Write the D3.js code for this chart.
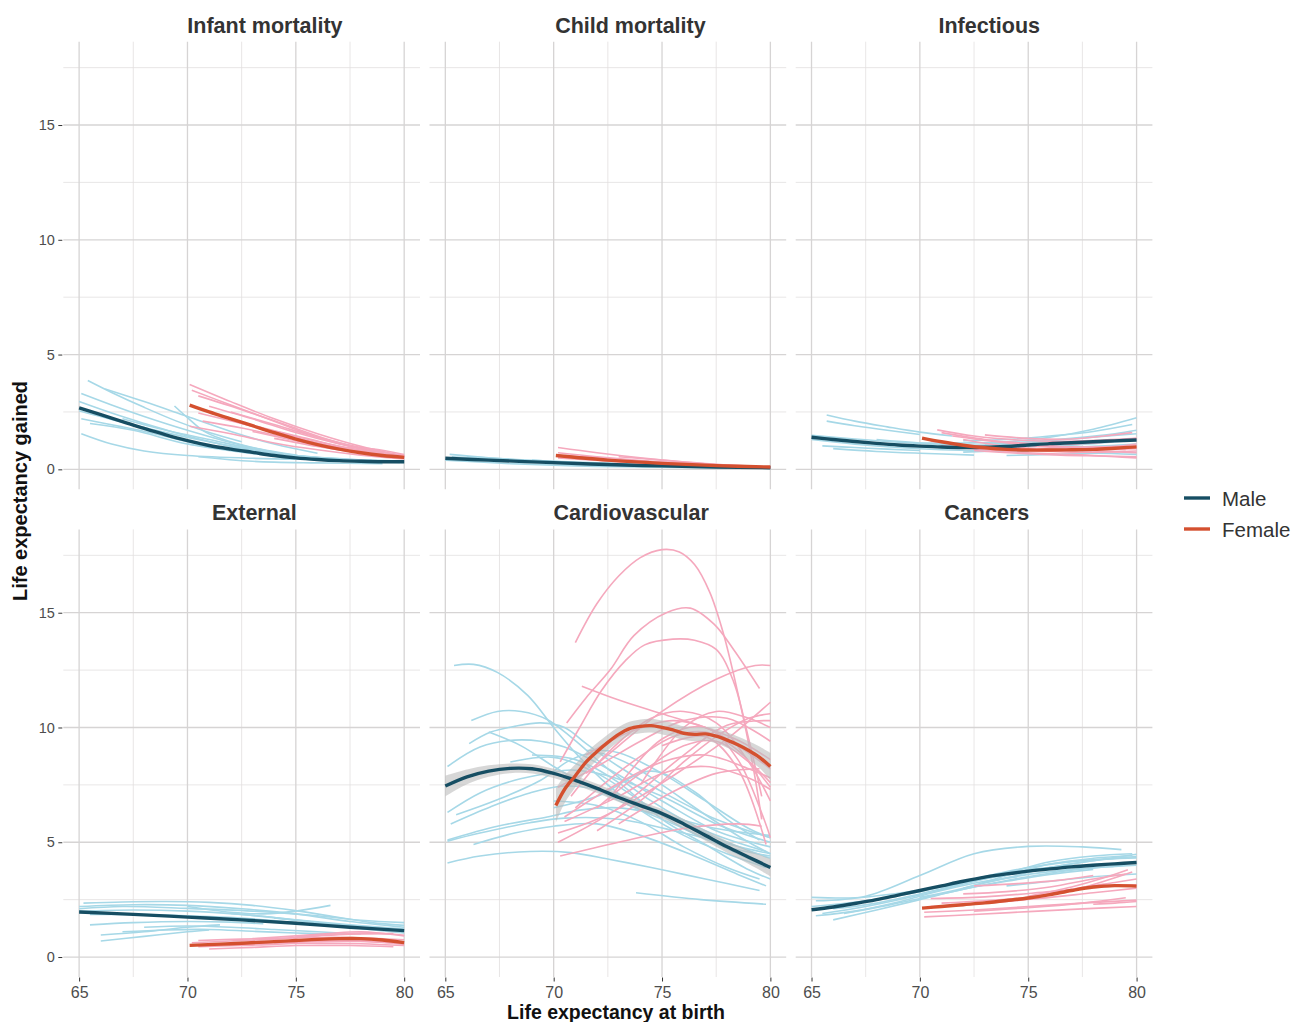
<!DOCTYPE html>
<html>
<head>
<meta charset="utf-8">
<script src="https://cdn.jsdelivr.net/npm/d3@7"></script>
<style>
  html, body { margin: 0; padding: 0; background: #fff; }
  svg { display: block; font-family: "Liberation Sans", Arial, Helvetica, sans-serif; }
</style>
</head>
<body>
<svg id="chart" width="1294" height="1022"></svg>
<script>
// ---------------- DATA ----------------
const panelTitles = ["Infant mortality", "Child mortality", "Infectious", "External", "Cardiovascular", "Cancers"];
const sexes = ["Male", "Female"];
const xTicks = [65, 70, 75, 80];
const xMinor = [67.5, 72.5, 77.5];
const yTicks = [0, 5, 10, 15];
const yMinor = [2.5, 7.5, 12.5, 17.5];

// Infant mortality
const infantMaleLines = [
  [[65.4,3.87],[66.5,3.35],[68,2.7],[69.5,2.1],[71,1.6],[72.5,1.2]],
  [[66.2,3.5],[68,2.95],[70,2.3],[72,1.65],[74,1.1],[76,0.7]],
  [[65.1,3.3],[66.5,2.8],[68,2.3],[70,1.7],[72.5,1.05],[75,0.6],[77,0.45]],
  [[65,2.95],[66.5,2.45],[68,2.0],[70,1.45],[72,1.0],[74,0.7]],
  [[65,2.55],[67,2.05],[69,1.6],[71,1.2],[73,0.85],[75,0.6],[78,0.4]],
  [[65.1,2.2],[67,1.85],[68.5,1.55],[70,1.2],[72,0.85],[74.5,0.55],[77,0.4]],
  [[65.1,1.55],[66.5,1.1],[68,0.8],[70,0.6],[73,0.48],[76,0.43],[78.5,0.4]],
  [[69.4,2.76],[70,2.25],[70.7,1.7],[71.5,1.35],[73,0.95],[75,0.62]],
  [[65.5,2.0],[67.5,1.7],[70,1.1],[72.5,0.75],[75,0.48],[77.5,0.35],[79.8,0.3]],
  [[70,1.1],[72,0.85],[74,0.62],[76,0.45],[78,0.36],[80,0.3]],
  [[72,0.95],[74,0.7],[76,0.52],[78,0.42],[80,0.35]],
  [[67,2.2],[69,1.7],[71,1.3],[73,0.9],[75.5,0.55],[78,0.38]],
  [[70.5,0.55],[73,0.35],[76,0.28],[79,0.25]]
];
const infantFemaleLines = [
  [[70.1,3.7],[72,2.95],[74,2.2],[76,1.55],[78,1.0],[79.6,0.65]],
  [[70.2,3.45],[72,2.8],[74,2.1],[76,1.4],[78,0.9],[80,0.6]],
  [[70.5,3.2],[72.5,2.6],[74.5,1.95],[76.5,1.3],[78.5,0.8],[80,0.6]],
  [[70.7,2.1],[72.5,1.8],[74,1.5],[76,1.1],[78,0.75],[79.5,0.6]],
  [[70.1,1.88],[72,1.55],[74,1.15],[76,0.85],[78,0.62],[80,0.45]],
  [[71,2.75],[73,2.2],[75,1.6],[77,1.1],[79,0.7],[80,0.58]],
  [[71.5,2.3],[73.5,1.8],[75.5,1.35],[77.5,0.9],[79.5,0.62]],
  [[72,2.5],[74,1.95],[76,1.4],[78,0.95],[80,0.58]],
  [[72.5,2.0],[74.5,1.5],[76.5,1.05],[78.5,0.72],[80,0.52]],
  [[73,1.65],[75,1.25],[77,0.88],[79,0.6],[80,0.5]],
  [[74,1.35],[76,1.0],[78,0.72],[80,0.52]],
  [[76,1.05],[77.5,0.85],[79,0.68],[80,0.55]],
  [[70.5,2.45],[72.5,2.0],[74.5,1.55],[76.5,1.1],[78.5,0.75],[80,0.55]],
  [[77,0.95],[78.5,0.9],[80,0.65]]
];
const infantMaleTrend = [[65,2.68],[66,2.38],[67,2.08],[68,1.78],[69,1.5],[70,1.25],[71,1.04],[72,0.88],[73,0.74],[74,0.6],[75,0.5],[76,0.43],[77,0.38],[78,0.35],[79,0.33],[80,0.33]];
const infantFemaleTrend = [[70.1,2.8],[71,2.5],[72,2.2],[73,1.9],[74,1.6],[75,1.32],[76,1.08],[77,0.88],[78,0.72],[79,0.6],[80,0.52]];

// Child mortality
const childMaleLines = [
  [[65.2,0.65],[67,0.5],[70,0.32],[73,0.2],[76,0.12]],
  [[65,0.4],[68,0.25],[71,0.15],[74,0.1],[78,0.06]],
  [[66,0.55],[68.5,0.42],[71,0.3]],
  [[69,0.4],[70,0.35],[72,0.28],[75,0.17],[79,0.08]],
  [[65.3,0.55],[67,0.45],[69,0.35],[71,0.28]],
  [[70,0.25],[74,0.15],[78,0.08],[80,0.06]]
];
const childFemaleLines = [
  [[70.2,0.95],[72,0.72],[74,0.5],[76,0.32],[78,0.18],[80,0.1]],
  [[70.2,0.72],[72,0.55],[75,0.32],[78,0.16],[80,0.1]],
  [[70.5,0.6],[73,0.42],[76,0.25],[79,0.12]],
  [[71,0.5],[74,0.35],[77,0.2],[80,0.08]],
  [[73,0.55],[75,0.4],[77,0.25],[79,0.14]],
  [[70.2,0.5],[73,0.33],[76,0.18],[80,0.07]]
];
const childMaleTrend = [[65,0.48],[67,0.4],[70,0.29],[72.5,0.21],[75,0.15],[77.5,0.1],[80,0.07]];
const childFemaleTrend = [[70.1,0.6],[72.5,0.4],[75,0.26],[77.5,0.16],[80,0.1]];

// Infectious
const infectMaleLines = [
  [[65.7,2.37],[67,2.1],[68.5,1.85],[70,1.62],[71.5,1.45]],
  [[65.7,2.1],[67,1.9],[68.5,1.7],[70,1.52]],
  [[65,1.48],[67,1.32],[69,1.18],[71,1.08],[73,1.02]],
  [[65,1.3],[67,1.1],[69,0.95],[71,0.85],[73,0.8],[75,0.78]],
  [[65.5,1.02],[67,0.95],[68.5,0.88],[70,0.82]],
  [[66,0.9],[68,0.78],[70,0.7],[72.5,0.62]],
  [[70,1.15],[72,1.15],[74,1.2],[76,1.4],[78,1.75],[80,2.25]],
  [[72,1.25],[74,1.3],[76,1.45],[78,1.65],[79.8,1.95]],
  [[73,1.1],[75,1.2],[77,1.35],[79,1.55],[80,1.7]],
  [[72,0.75],[74,0.82],[76,0.9],[78,1.0],[80,1.1]],
  [[75,1.0],[77,1.05],[79,1.2],[80,1.28]],
  [[74,0.6],[76,0.65],[78,0.7],[80,0.65]],
  [[68,1.3],[70,1.15],[72,1.05],[74,1.1],[76,1.25],[78,1.4],[80,1.55]],
  [[65.2,1.42],[67,1.2],[69,1.05],[71,0.95],[73,0.95]]
];
const infectFemaleLines = [
  [[70.8,1.72],[72.5,1.45],[74.5,1.28],[76.5,1.22],[78.5,1.28],[80,1.35]],
  [[71,1.6],[73,1.3],[75,1.1],[77,0.98],[79,0.98],[80,1.0]],
  [[72,1.3],[74,1.0],[76,0.88],[78,0.8],[80,0.72]],
  [[71,1.02],[73,0.85],[75,0.72],[77,0.65],[79,0.55],[80,0.5]],
  [[72.5,0.82],[74.5,0.7],[76.5,0.62],[78.5,0.58],[80,0.55]],
  [[73,1.5],[75,1.35],[77,1.32],[78.5,1.45],[79.8,1.6]],
  [[74,1.2],[76,1.1],[78,1.15],[80,1.35]],
  [[75,0.82],[77,0.75],[79,0.76],[80,0.8]],
  [[70.5,1.22],[72.5,1.02],[74.5,0.9],[76.5,0.85],[78.5,0.86],[80,0.9]],
  [[76,1.0],[77.5,0.95],[79,1.0],[80,1.1]],
  [[71.5,1.45],[73.5,1.2],[75.5,1.0],[77.5,0.9],[79.5,0.85]]
];
const infectMaleTrend = [[65,1.4],[66,1.3],[67,1.21],[68,1.13],[69,1.06],[70,1.01],[71,0.97],[72,0.95],[73,0.96],[74,1.0],[75,1.06],[76,1.12],[77,1.16],[78,1.2],[79,1.24],[80,1.28]];
const infectFemaleTrend = [[70.1,1.36],[71,1.2],[72,1.05],[73,0.94],[74,0.87],[75,0.84],[76,0.84],[77,0.85],[78,0.87],[79,0.92],[80,0.98]];

// External
const extMaleLines = [
  [[65.2,2.35],[67,2.4],[69,2.42],[71,2.38],[73,2.25],[75,2.02],[77,1.72],[78.5,1.5],[80,1.38]],
  [[65,2.2],[67.5,2.28],[70,2.25],[72.5,2.1],[75,1.88],[77.5,1.55],[80,1.3]],
  [[65,2.0],[67.5,2.05],[70,2.0],[72.5,1.85],[75,1.62],[77.5,1.4],[80,1.22]],
  [[65.5,1.85],[68,1.85],[70,1.8],[72.5,1.7],[75,1.5],[77.5,1.33],[79.5,1.2]],
  [[65.5,1.4],[67.5,1.5],[70,1.55],[72,1.52],[73.5,1.45]],
  [[66,0.96],[68,1.1],[70,1.3],[71.5,1.4]],
  [[66,0.7],[68,0.9],[70,1.1],[71,1.18]],
  [[67,1.1],[69,1.18],[71,1.2],[73,1.12],[75,1.05],[76.5,1.0]],
  [[70,2.2],[72,1.95],[73.5,1.88],[75,2.0],[76.6,2.25]],
  [[72,1.9],[74,1.72],[76,1.5],[78,1.25],[80,1.05]],
  [[74,1.7],[76,1.5],[78,1.3],[80,1.12]],
  [[65,2.1],[67,2.2],[70,2.12],[73,2.0],[76,1.8],[78,1.6],[80,1.5]],
  [[68,1.3],[70,1.35],[72,1.3],[74,1.2],[76,1.1],[78,1.0]]
];
const extFemaleLines = [
  [[70.2,0.62],[72,0.7],[74,0.78],[76,0.92],[77.5,1.0],[79.5,1.02]],
  [[70.5,0.45],[73,0.52],[75.5,0.6],[78,0.58],[80,0.5]],
  [[71,0.35],[73,0.42],[75,0.5],[77.5,0.5],[79.5,0.45]],
  [[70.5,0.72],[72.5,0.78],[74.5,0.82],[77,0.86],[80,0.75]],
  [[72,0.55],[74,0.62],[76,0.7],[78,0.68],[80,0.6]],
  [[73,0.8],[75,0.92],[76.5,1.02],[78,1.1],[80,0.92]],
  [[74,0.6],[76,0.68],[78,0.7],[80,0.55]],
  [[75,0.88],[77,1.0],[78.5,1.05],[80,0.95]],
  [[71.5,0.55],[74,0.65],[77,0.75],[79.5,0.7]]
];
const extMaleTrend = [[65,1.96],[67.5,1.86],[70,1.74],[72.5,1.62],[75,1.47],[77.5,1.3],[80,1.15]];
const extFemaleTrend = [[70.1,0.51],[72,0.58],[74,0.67],[75,0.72],[76,0.77],[77,0.8],[78,0.8],[79,0.74],[80,0.63]];

// Cardiovascular
const cardioMaleLines = [
  [[65.4,12.7],[66.3,12.75],[67.4,12.4],[68.8,11.4],[70,10.0],[71,8.9],[72.5,7.5],[74,6.4],[76,5.3],[78,4.5],[79.8,3.9]],
  [[66.2,10.3],[67.4,10.7],[68.5,10.7],[69.7,10.35],[70.9,9.5],[72.5,8.2],[74.5,6.8],[77,5.5],[79.8,4.6]],
  [[66.1,9.3],[67.1,9.8],[68.2,10.05],[69.4,10.2],[70.5,10.0],[71.5,9.3],[73,8.3],[75,7.2],[77.5,6.0],[80,5.2]],
  [[65.1,8.3],[66.6,9.15],[68.2,9.45],[69.4,9.4],[70.5,9.15],[72.5,8.2],[75,6.8],[77.5,5.5],[80,4.8]],
  [[67,9.8],[68.5,9.2],[70,8.3],[71.5,7.5],[73.5,6.6],[76,5.6],[78.5,4.5],[79.8,3.9]],
  [[65.1,6.3],[66.6,7.15],[68.2,7.7],[69.7,8.0],[70.8,8.15],[72.5,7.9],[75,7.0],[77.5,5.8],[80,5.0]],
  [[65.25,5.8],[67.1,6.55],[68.9,7.15],[70.5,7.45],[72.5,7.2],[75,6.3],[77.5,5.2],[80,4.3]],
  [[65.5,6.2],[67.4,6.85],[69.4,7.7],[70.8,8.6],[72,8.9],[73.5,8.4],[75,7.5],[77,6.2],[79,5.0],[80,4.5]],
  [[65.1,5.1],[67.4,5.7],[69.7,6.1],[71.2,6.4],[73,6.5],[75,6.2],[77.5,5.6],[80,5.3]],
  [[65.1,5.05],[66.6,5.4],[68.9,5.85],[70.5,6.05],[73,6.0],[76,5.4],[79,4.7],[80,4.5]],
  [[66.3,4.9],[68.2,5.4],[70,5.7],[72,5.8],[74,5.3],[76.5,4.4],[78.5,3.6],[79.8,3.1]],
  [[65.1,4.1],[66.6,4.4],[68.9,4.6],[70.8,4.55],[72.6,4.25],[74.5,3.9],[76,3.6],[78,3.2],[79.5,2.9]],
  [[73.8,2.8],[76.8,2.5],[79.8,2.3]],
  [[70,6.5],[72,7.0],[74.5,8.1],[76.5,7.2],[78,6.0],[79.5,5.1]],
  [[69,8.8],[71,8.6],[73,7.6],[75,6.0],[77,4.9],[79,3.8],[80,3.4]],
  [[70,6.8],[72,6.6],[74,5.9],[76,4.8],[78,3.9],[79.5,3.4]],
  [[71.5,9.0],[73,8.9],[75,8.0],[77,6.8],[79,5.6],[80,5.2]],
  [[68,8.5],[70,8.7],[72,8.0],[74,6.8],[76,5.6],[78,4.8],[80,4.4]]
];
const cardioFemaleLines = [
  [[71.0,13.7],[72,15.4],[73,16.6],[74,17.4],[75,17.75],[75.8,17.65],[76.5,17.1],[77.2,15.9],[77.8,14.2],[78.5,11.5],[79.2,8.3],[79.6,6.0]],
  [[70.6,10.2],[71.5,11.3],[72.6,12.5],[73.7,14.0],[75.2,15.0],[76.3,15.2],[77.4,14.5],[78.3,13.4],[79.5,11.7]],
  [[70.3,8.5],[71.2,10.0],[72.2,11.6],[73.3,12.9],[74.2,13.6],[75.5,13.85],[76.5,13.8],[77.5,13.4],[78.3,12.0],[79.0,9.5],[79.6,7.0]],
  [[71.5,8.0],[73,9.2],[75,10.7],[77.5,12.1],[79.3,12.7],[80,12.7]],
  [[71.3,11.8],[73,11.2],[75,10.6],[77,10.0],[78.6,9.4],[80,8.6]],
  [[70.2,5.4],[72,6.0],[74,7.0],[76,8.2],[78,9.5],[80,11.1]],
  [[70.2,5.0],[73,6.5],[76,8.8],[78,10.1],[80,10.3]],
  [[70.3,4.4],[73,5.0],[76,5.6],[78.5,5.8],[79.6,5.7]],
  [[70.5,5.9],[73,7.0],[75,8.0],[77,8.3],[79,7.8],[80,7.3]],
  [[71,6.5],[73.5,8.4],[75.5,9.6],[77,9.8],[78.5,9.0],[80,7.4]],
  [[72,6.5],[74,8.0],[76,9.2],[77.5,9.4],[79,8.5],[80,7.6]],
  [[71.5,8.8],[73.5,9.8],[75.5,10.3],[77,10.0],[78.5,9.2],[80,8.2]],
  [[70.8,7.0],[72.5,8.9],[74.5,10.4],[76,10.7],[77.5,10.2],[79,8.5],[80,6.8]],
  [[72,5.5],[74,6.8],[76,8.5],[77.5,9.6],[79,10.4],[80,10.6]],
  [[73,5.8],[75.5,7.2],[77.5,8.0],[79.5,8.2]],
  [[70.5,6.1],[72.5,7.3],[75,8.5],[77,8.8],[79,8.2],[80,7.8]],
  [[74,7.5],[76,10.0],[77.5,10.7],[79,10.4],[80,10.0]],
  [[72.5,6.8],[75,9.5],[77,10.0],[78.5,8.6],[80,5.2]],
  [[75,9.2],[77,9.6],[78.5,8.2],[79.8,4.9]],
  [[70.2,7.4],[72,8.3],[74,9.4],[76,10.3],[78,10.4],[80,9.4]]
];
const cardioMaleTrend = [[65,7.45],[66,7.85],[67,8.1],[68,8.22],[69,8.2],[70,8.0],[71,7.7],[72,7.35],[73,6.95],[74,6.6],[75,6.25],[76,5.8],[77,5.3],[78,4.8],[79,4.35],[80,3.9]];
const cardioMaleBand = [0.45,0.32,0.25,0.21,0.2,0.2,0.2,0.2,0.2,0.2,0.2,0.21,0.23,0.26,0.3,0.38];
const cardioFemaleTrend = [[70.1,6.6],[70.5,7.3],[71,7.9],[71.5,8.5],[72,8.95],[72.5,9.35],[73,9.7],[73.5,9.95],[74,10.05],[74.5,10.08],[75,10.0],[75.5,9.9],[76,9.75],[76.5,9.7],[77,9.72],[77.5,9.62],[78,9.45],[78.5,9.25],[79,9.0],[79.5,8.7],[80,8.3]];
const cardioFemaleBand = [0.75,0.6,0.5,0.42,0.37,0.34,0.32,0.3,0.3,0.3,0.3,0.3,0.3,0.3,0.3,0.31,0.33,0.36,0.4,0.47,0.6];

// Cancers
const cancerMaleLines = [
  [[65.2,2.45],[67.5,2.65],[70,3.55],[72.5,4.5],[75,4.82],[77.5,4.8],[79.3,4.68]],
  [[65,2.2],[67.5,2.45],[70,2.85],[72.5,3.4],[75,3.9],[77.5,4.2],[80,4.32]],
  [[65.5,1.9],[67.5,2.2],[70,2.7],[73,3.4],[76,3.9],[78,4.2],[80,4.38]],
  [[66,1.62],[68,2.05],[70,2.5],[72,2.95],[74,3.3],[76,3.6],[78,3.82]],
  [[65,2.6],[67,2.58],[69,2.78],[71,3.05],[73,3.42],[75,3.8],[77.5,4.0],[80,4.12]],
  [[66.5,1.9],[68.5,2.25],[70.5,2.65],[72.5,3.05],[74.5,3.42],[77,3.78],[79.5,4.0]],
  [[70,2.6],[72,3.0],[74,3.55],[76,4.05],[78,4.3],[79.8,4.42]],
  [[72,3.0],[74,3.45],[76,3.9],[78,4.2],[80,4.48]],
  [[74,3.1],[76,3.3],[78,3.5],[80,3.62]],
  [[65.2,1.8],[67,2.0],[69,2.4],[71,2.9],[73,3.3],[74.5,3.5]],
  [[73,3.25],[75,3.6],[77,3.82],[79,3.95],[80,4.0]],
  [[66,2.1],[68,2.35],[70,2.75],[72,3.2],[74,3.65],[76,4.15],[78,4.4],[79.8,4.5]]
];
const cancerFemaleLines = [
  [[70.2,1.75],[72.5,1.85],[75,1.98],[77.5,2.1],[80,2.2]],
  [[70.2,1.95],[72.5,2.05],[75,2.2],[77.5,2.35],[80,2.48]],
  [[71,2.35],[73,2.45],[75,2.6],[77,2.9],[78.5,3.3],[79.8,3.7]],
  [[72,2.75],[74,2.85],[76,3.05],[78,3.4],[79.5,3.62]],
  [[73,2.4],[75,2.6],[77,2.95],[79,3.25],[80,3.4]],
  [[70.5,2.2],[73,2.35],[75.5,2.55],[78,2.8],[80,3.0]],
  [[78,2.3],[79,2.35],[80,2.42]],
  [[72.5,2.0],[75,2.15],[77.5,2.35],[79.5,2.58]],
  [[75,2.65],[77,3.05],[78.5,3.45],[79.6,3.8]],
  [[72.5,3.1],[74.5,3.2],[76.5,3.35],[78,3.55]],
  [[70.5,2.55],[73,2.62],[76,2.85],[79,3.1],[80,3.15]]
];
const cancerMaleTrend = [[65,2.06],[66,2.18],[67,2.33],[68,2.5],[69,2.7],[70,2.9],[71,3.1],[72,3.3],[73,3.48],[74,3.62],[75,3.74],[76,3.84],[77,3.93],[78,4.0],[79,4.06],[80,4.12]];
const cancerFemaleTrend = [[70.1,2.13],[71,2.2],[72,2.28],[73,2.36],[74,2.46],[75,2.57],[76,2.72],[77,2.9],[78,3.05],[79,3.11],[80,3.09]];

// ---------------- ASSEMBLY ----------------
const panelsData = [
  { title: panelTitles[0], male: infantMaleLines, female: infantFemaleLines, maleTrend: infantMaleTrend, femaleTrend: infantFemaleTrend },
  { title: panelTitles[1], male: childMaleLines, female: childFemaleLines, maleTrend: childMaleTrend, femaleTrend: childFemaleTrend },
  { title: panelTitles[2], male: infectMaleLines, female: infectFemaleLines, maleTrend: infectMaleTrend, femaleTrend: infectFemaleTrend },
  { title: panelTitles[3], male: extMaleLines, female: extFemaleLines, maleTrend: extMaleTrend, femaleTrend: extFemaleTrend },
  { title: panelTitles[4], male: cardioMaleLines, female: cardioFemaleLines, maleTrend: cardioMaleTrend, femaleTrend: cardioFemaleTrend, maleBand: cardioMaleBand, femaleBand: cardioFemaleBand },
  { title: panelTitles[5], male: cancerMaleLines, female: cancerFemaleLines, maleTrend: cancerMaleTrend, femaleTrend: cancerFemaleTrend }
];

const colors = {
  maleThin: "#a6d8e7", femaleThin: "#f5a8bd",
  maleThick: "#164e63", femaleThick: "#d4502f",
  band: "#bdbdbd"
};

const svg = d3.select("#chart");
const colLeft = [63.3, 429.5, 795.7];
const rowTop = [41.7, 529.4];
const pw = 356.7, ph = 447.6;
const xDomain = [64.27, 80.73];
const yDomain = [-0.87, 18.63];

panelsData.forEach((p, i) => {
  const col = i % 3, row = Math.floor(i / 3);
  const left = colLeft[col], top = rowTop[row];
  const x = d3.scaleLinear().domain(xDomain).range([left, left + pw]);
  const y = d3.scaleLinear().domain(yDomain).range([top + ph, top]);
  const g = svg.append("g");

  // grid
  g.selectAll(".hminor").data(yMinor).join("line")
    .attr("x1", left).attr("x2", left + pw).attr("y1", d => y(d)).attr("y2", d => y(d))
    .attr("stroke", "#e2e0e0").attr("stroke-width", 0.8);
  g.selectAll(".vminor").data(xMinor).join("line")
    .attr("y1", top).attr("y2", top + ph).attr("x1", d => x(d)).attr("x2", d => x(d))
    .attr("stroke", "#e2e0e0").attr("stroke-width", 0.8);
  g.selectAll(".hmajor").data(yTicks).join("line")
    .attr("x1", left).attr("x2", left + pw).attr("y1", d => y(d)).attr("y2", d => y(d))
    .attr("stroke", "#d6d4d4").attr("stroke-width", 1.3);
  g.selectAll(".vmajor").data(xTicks).join("line")
    .attr("y1", top).attr("y2", top + ph).attr("x1", d => x(d)).attr("x2", d => x(d))
    .attr("stroke", "#d6d4d4").attr("stroke-width", 1.3);

  const line = d3.line().x(d => x(d[0])).y(d => y(d[1])).curve(d3.curveCatmullRom.alpha(0.5));

  g.selectAll(".mthin").data(p.male).join("path")
    .attr("d", line).attr("fill", "none").attr("stroke", colors.maleThin).attr("stroke-width", 1.6);
  g.selectAll(".fthin").data(p.female).join("path")
    .attr("d", line).attr("fill", "none").attr("stroke", colors.femaleThin).attr("stroke-width", 1.6);

  const area = d3.area().x(d => x(d[0])).y0(d => y(d[1] - d[2])).y1(d => y(d[1] + d[2]))
    .curve(d3.curveCatmullRom.alpha(0.5));
  if (p.maleBand) {
    g.append("path").datum(p.maleTrend.map((d, k) => [d[0], d[1], p.maleBand[k]]))
      .attr("d", area).attr("fill", colors.band).attr("opacity", 0.6);
  }
  if (p.femaleBand) {
    g.append("path").datum(p.femaleTrend.map((d, k) => [d[0], d[1], p.femaleBand[k]]))
      .attr("d", area).attr("fill", colors.band).attr("opacity", 0.6);
  }

  g.append("path").datum(p.maleTrend).attr("d", line).attr("fill", "none")
    .attr("stroke", colors.maleThick).attr("stroke-width", 3.4).attr("stroke-linecap", "butt");
  g.append("path").datum(p.femaleTrend).attr("d", line).attr("fill", "none")
    .attr("stroke", colors.femaleThick).attr("stroke-width", 3.4).attr("stroke-linecap", "butt");

  // strip title (reference places it slightly right of the panel centre)
  const t = svg.append("text").attr("y", top - 9.2)
    .attr("font-size", 21.5).attr("font-weight", "bold")
    .attr("fill", "#333333").text(p.title);
  const len = t.node().getComputedTextLength();
  t.attr("x", left + pw / 2 - 0.35 * len);

  // axes
  if (col === 0) {
    const ay = svg.append("g").attr("transform", `translate(${left - 1},0)`)
      .call(d3.axisLeft(y).tickValues(yTicks).tickSize(4).tickPadding(3.5));
    ay.select(".domain").remove();
    ay.selectAll(".tick line").attr("stroke", "#333").attr("stroke-width", 1);
    ay.selectAll(".tick text").attr("font-size", 14.5).attr("fill", "#4d4d4d")
      .attr("font-family", "Liberation Sans, Arial, sans-serif");
  }
  if (row === 1) {
    const ax = svg.append("g").attr("transform", `translate(0,${top + ph + 0.5})`)
      .call(d3.axisBottom(x).tickValues(xTicks).tickSize(4).tickPadding(5));
    ax.select(".domain").remove();
    ax.selectAll(".tick line").attr("stroke", "#333").attr("stroke-width", 1);
    ax.selectAll(".tick text").attr("font-size", 16).attr("fill", "#4d4d4d")
      .attr("font-family", "Liberation Sans, Arial, sans-serif");
  }
});

// axis titles
svg.append("text").attr("x", 616).attr("y", 1019).attr("text-anchor", "middle")
  .attr("font-size", 19.5).attr("font-weight", "bold").attr("fill", "#111").text("Life expectancy at birth");
svg.append("text").attr("transform", "translate(27,491) rotate(-90)").attr("text-anchor", "middle")
  .attr("font-size", 20).attr("font-weight", "bold").attr("fill", "#111").text("Life expectancy gained");

// legend
const legendY = [498, 529];
sexes.forEach((s, k) => {
  svg.append("line").attr("x1", 1184).attr("x2", 1210).attr("y1", legendY[k]).attr("y2", legendY[k])
    .attr("stroke", k === 0 ? colors.maleThick : colors.femaleThick).attr("stroke-width", 3.4);
  svg.append("text").attr("x", 1222).attr("y", legendY[k] + 7.5).attr("font-size", 20.5)
    .attr("fill", "#333").text(s);
});
</script>
</body>
</html>
